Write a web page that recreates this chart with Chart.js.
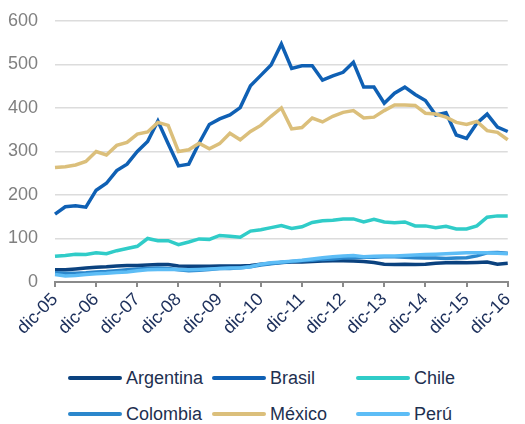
<!DOCTYPE html>
<html>
<head>
<meta charset="utf-8">
<script src="https://cdn.jsdelivr.net/npm/chart.js@4"></script>
<style>
  body { margin: 0; background: #fff; font-family: Arial, "Liberation Sans", sans-serif; }
  #wrap { position: relative; width: 525px; height: 424px; }
  #box { position: absolute; left: 0; top: 0; width: 525px; height: 352px; }
  #legend { position: absolute; left: 68px; top: 360px; display: grid;
            grid-template-columns: 144px 144px 144px; grid-auto-rows: 36px; }
  .item { display: flex; align-items: center; font-size: 18px; color: #1e3050; }
  .sw { width: 54px; height: 4px; border-radius: 2px; margin-right: 4px; }
</style>
</head>
<body>
<div id="wrap">
  <div id="box"><canvas id="chart"></canvas></div>
  <div id="legend"></div>
</div>
<script>
// quarterly, dic-05 .. dic-16
const months = ['mar', 'jun', 'sep', 'dic'];
const labels = ['dic-05'];
for (let y = 6; y <= 16; y++) {
    months.forEach(m => labels.push(m + '-' + String(y).padStart(2, '0')));
}

const argentina = [28,28,30,32,34,35,37,38,38,39,40,40,37,36,36,36,37,37,37,38,41,43,45,46,46,47,48,49,49,48,47,45,41,40,41,40,41,43,44,45,44,45,46,41,43];
const brasil = [156,173,175,172,211,227,256,271,300,323,370,318,267,271,319,362,375,384,401,451,475,499,547,491,497,497,464,474,482,505,448,448,411,434,448,431,417,384,389,338,330,365,386,356,346];
const chile = [59,61,64,63,67,65,72,77,82,100,95,95,86,92,99,98,107,105,103,117,120,125,130,123,127,137,141,142,145,145,138,144,138,136,138,129,129,125,128,122,122,129,149,152,152];
const colombia = [21,20,20,21,23,24,26,28,30,31,32,31,28,26,27,29,31,31,33,35,39,42,45,47,49,50,52,53,55,56,57,57,58,58,57,56,55,55,54,55,56,60,67,68,66];
const mexico = [263,265,269,277,300,292,314,321,340,345,367,360,300,304,319,306,318,342,327,346,360,381,400,352,355,377,368,381,390,394,377,379,394,407,407,406,388,386,379,367,362,369,348,344,327];
const peru = [17,14,15,17,19,20,22,23,26,28,29,29,29,28,29,30,31,32,32,35,41,44,46,48,50,53,56,58,60,61,58,59,60,60,61,62,63,64,65,66,67,67,67,66,65];

const series = [
    { label: 'Argentina', data: argentina, color: '#0b427f' },
    { label: 'Brasil', data: brasil, color: '#0f60b4' },
    { label: 'Chile', data: chile, color: '#30ccc8' },
    { label: 'Colombia', data: colombia, color: '#2b87cc' },
    { label: 'México', data: mexico, color: '#dbbf7b' },
    { label: 'Perú', data: peru, color: '#5dbdf6' }
];

const font = { family: 'Arial, "Liberation Sans", sans-serif', size: 18 };

const chart = new Chart(document.getElementById('chart'), {
    type: 'line',
    data: {
        labels: labels,
        datasets: series.map((s, i) => ({
            label: s.label,
            data: s.data,
            borderColor: s.color,
            backgroundColor: s.color,
            borderWidth: 3.5,
            pointRadius: 0,
            tension: 0,
            fill: false,
            order: series.length - i
        }))
    },
    options: {
        responsive: true,
        maintainAspectRatio: false,
        animation: false,
        layout: { padding: { top: 21, right: 6, left: 0, bottom: 0 } },
        plugins: {
            legend: { display: false },
            tooltip: { enabled: false }
        },
        scales: {
            x: {
                offset: false,
                afterFit: s => { s.height = 70; },
                grid: {
                    drawOnChartArea: false,
                    tickLength: 5,
                    lineWidth: 2,
                    color: ctx => (ctx.index % 4 === 0 ? '#8a8a8a' : 'rgba(0,0,0,0)')
                },
                border: { display: true, color: '#8a8a8a', width: 2 },
                ticks: {
                    autoSkip: false,
                    maxRotation: 45,
                    minRotation: 45,
                    padding: 2,
                    color: '#1c2f5b',
                    font: font,
                    callback: (v, i) => (i % 4 === 0 ? labels[i] : '')
                }
            },
            y: {
                min: 0,
                max: 600,
                afterFit: s => { s.width = 55; s.paddingTop = 0; s.paddingBottom = 0; },
                grid: { color: '#dcdcdc', lineWidth: 1.5, drawTicks: false },
                border: { display: false },
                ticks: { stepSize: 100, padding: 17, color: '#808080', font: font }
            }
        }
    }
});

const legend = document.getElementById('legend');
series.forEach(s => {
    const item = document.createElement('div');
    item.className = 'item';
    const sw = document.createElement('span');
    sw.className = 'sw';
    sw.style.background = s.color;
    item.appendChild(sw);
    item.appendChild(document.createTextNode(s.label));
    legend.appendChild(item);
});
</script>
</body>
</html>
